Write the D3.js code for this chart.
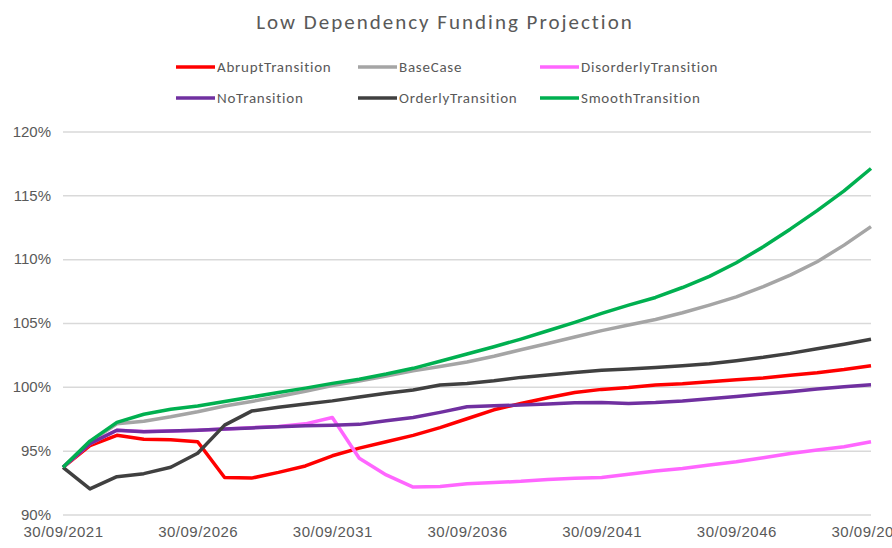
<!DOCTYPE html>
<html lang="en">
<head>
<meta charset="UTF-8">
<title>Low Dependency Funding Projection</title>
<script src="https://d3js.org/d3.v7.min.js"></script>
<style>
    html, body { margin: 0; padding: 0; background: #fff; }
    svg { display: block; font-family: Carlito, Calibri, Lato, sans-serif; }
</style>
</head>
<body>
<svg id="chart" width="892" height="548"></svg>
<script>
// --- Data ---
const dates = [
    "30/09/2021", "30/09/2022", "30/09/2023", "30/09/2024", "30/09/2025",
    "30/09/2026", "30/09/2027", "30/09/2028", "30/09/2029", "30/09/2030",
    "30/09/2031", "30/09/2032", "30/09/2033", "30/09/2034", "30/09/2035",
    "30/09/2036", "30/09/2037", "30/09/2038", "30/09/2039", "30/09/2040",
    "30/09/2041", "30/09/2042", "30/09/2043", "30/09/2044", "30/09/2045",
    "30/09/2046", "30/09/2047", "30/09/2048", "30/09/2049", "30/09/2050",
    "30/09/2051"
];

const abruptTransition = [93.7, 95.4, 96.2, 95.9, 95.85, 95.7, 92.9, 92.85, 93.3, 93.8,
    94.6, 95.2, 95.7, 96.2, 96.8, 97.5, 98.2, 98.7, 99.15, 99.55,
    99.8, 99.95, 100.15, 100.25, 100.4, 100.55, 100.7, 100.9, 101.1, 101.35, 101.65];

const baseCase = [93.7, 95.7, 97.1, 97.3, 97.65, 98.05, 98.5, 98.85, 99.25, 99.65,
    100.1, 100.45, 100.85, 101.25, 101.6, 101.95, 102.4, 102.9, 103.4, 103.9,
    104.4, 104.85, 105.27, 105.8, 106.4, 107.05, 107.85, 108.75, 109.8, 111.1, 112.55];

const disorderlyTransition = [93.7, 95.55, 96.6, 96.5, 96.55, 96.6, 96.7, 96.8, 96.9, 97.1,
    97.6, 94.4, 93.1, 92.15, 92.2, 92.4, 92.5, 92.6, 92.75, 92.83,
    92.9, 93.15, 93.4, 93.6, 93.88, 94.13, 94.45, 94.78, 95.05, 95.3, 95.7];

const noTransition = [93.7, 95.55, 96.6, 96.48, 96.54, 96.6, 96.7, 96.78, 96.88, 96.96,
    97.0, 97.06, 97.34, 97.6, 98.0, 98.44, 98.52, 98.57, 98.65, 98.75,
    98.78, 98.7, 98.77, 98.89, 99.07, 99.25, 99.43, 99.62, 99.83, 100.0, 100.16];

const orderlyTransition = [93.7, 92.0, 92.96, 93.2, 93.7, 94.8, 97.0, 98.1, 98.4, 98.65,
    98.9, 99.2, 99.5, 99.75, 100.15, 100.27, 100.48, 100.74, 100.92, 101.13,
    101.3, 101.4, 101.52, 101.65, 101.81, 102.05, 102.31, 102.62, 102.98, 103.33, 103.72];

const smoothTransition = [93.7, 95.75, 97.22, 97.85, 98.25, 98.5, 98.85, 99.2, 99.55, 99.9,
    100.27, 100.6, 101.0, 101.45, 102.0, 102.57, 103.14, 103.74, 104.39, 105.05,
    105.75, 106.4, 107.0, 107.78, 108.65, 109.72, 110.97, 112.35, 113.8, 115.35, 117.1];

const yTicks = [90, 95, 100, 105, 110, 115, 120];
const xTickLabels = ["30/09/2021", "30/09/2026", "30/09/2031", "30/09/2036",
    "30/09/2041", "30/09/2046", "30/09/2051"];

const series = [
    { name: "AbruptTransition", values: abruptTransition, color: "#ff0000" },
    { name: "BaseCase", values: baseCase, color: "#a5a5a5" },
    { name: "DisorderlyTransition", values: disorderlyTransition, color: "#ff66ff" },
    { name: "NoTransition", values: noTransition, color: "#7030a0" },
    { name: "OrderlyTransition", values: orderlyTransition, color: "#404040" },
    { name: "SmoothTransition", values: smoothTransition, color: "#00b050" }
];

// --- Layout ---
const svg = d3.select("#chart");
const textColor = "#595959";

const x = d3.scalePoint().domain(dates).range([63, 871]);
const y = d3.scaleLinear().domain([90, 120]).range([514.5, 131.5]);

// title
svg.append("text")
    .attr("x", 445).attr("y", 29)
    .attr("text-anchor", "middle")
    .style("font-size", "21px")
    .style("letter-spacing", "2px")
    .style("fill", textColor)
    .text("Low Dependency Funding Projection");

// gridlines + y labels
const yAxis = d3.axisLeft(y)
    .tickValues(yTicks)
    .tickSize(-(871 - 63))
    .tickPadding(12)
    .tickFormat(d => d + "%");

svg.append("g")
    .attr("transform", "translate(63,0)")
    .call(yAxis)
    .call(g => g.select(".domain").remove())
    .call(g => g.selectAll("line").attr("stroke", "#d9d9d9").attr("stroke-width", 1.5))
    .call(g => g.selectAll("text").style("font-size", "15px").style("fill", textColor)
        .attr("font-family", null));

// x labels
const xAxis = d3.axisBottom(x)
    .tickValues(xTickLabels)
    .tickSize(0)
    .tickPadding(12);

svg.append("g")
    .attr("transform", "translate(0,514.5)")
    .call(xAxis)
    .call(g => g.select(".domain").remove())
    .call(g => g.selectAll("text").style("font-size", "15px").style("letter-spacing", "0.5px")
        .style("fill", textColor).attr("font-family", null));

// lines
const line = d3.line()
    .x((d, i) => x(dates[i]))
    .y(d => y(d));

svg.append("g")
    .selectAll("path")
    .data(series)
    .join("path")
    .attr("d", d => line(d.values))
    .attr("fill", "none")
    .attr("stroke", d => d.color)
    .attr("stroke-width", 3.5)
    .attr("stroke-linejoin", "round");

// legend (3 columns, 2 rows)
const legendCols = [176, 358, 540];
const legendRows = [67, 98];

const legend = svg.append("g")
    .selectAll("g")
    .data(series)
    .join("g")
    .attr("transform", (d, i) => `translate(${legendCols[i % 3]},${legendRows[Math.floor(i / 3)]})`);

legend.append("line")
    .attr("x1", 0).attr("x2", 39)
    .attr("stroke", d => d.color)
    .attr("stroke-width", 3.5);

legend.append("text")
    .attr("x", 41)
    .attr("dy", "0.35em")
    .style("font-size", "15px")
    .style("letter-spacing", "0.75px")
    .style("fill", textColor)
    .text(d => d.name);
</script>
</body>
</html>
